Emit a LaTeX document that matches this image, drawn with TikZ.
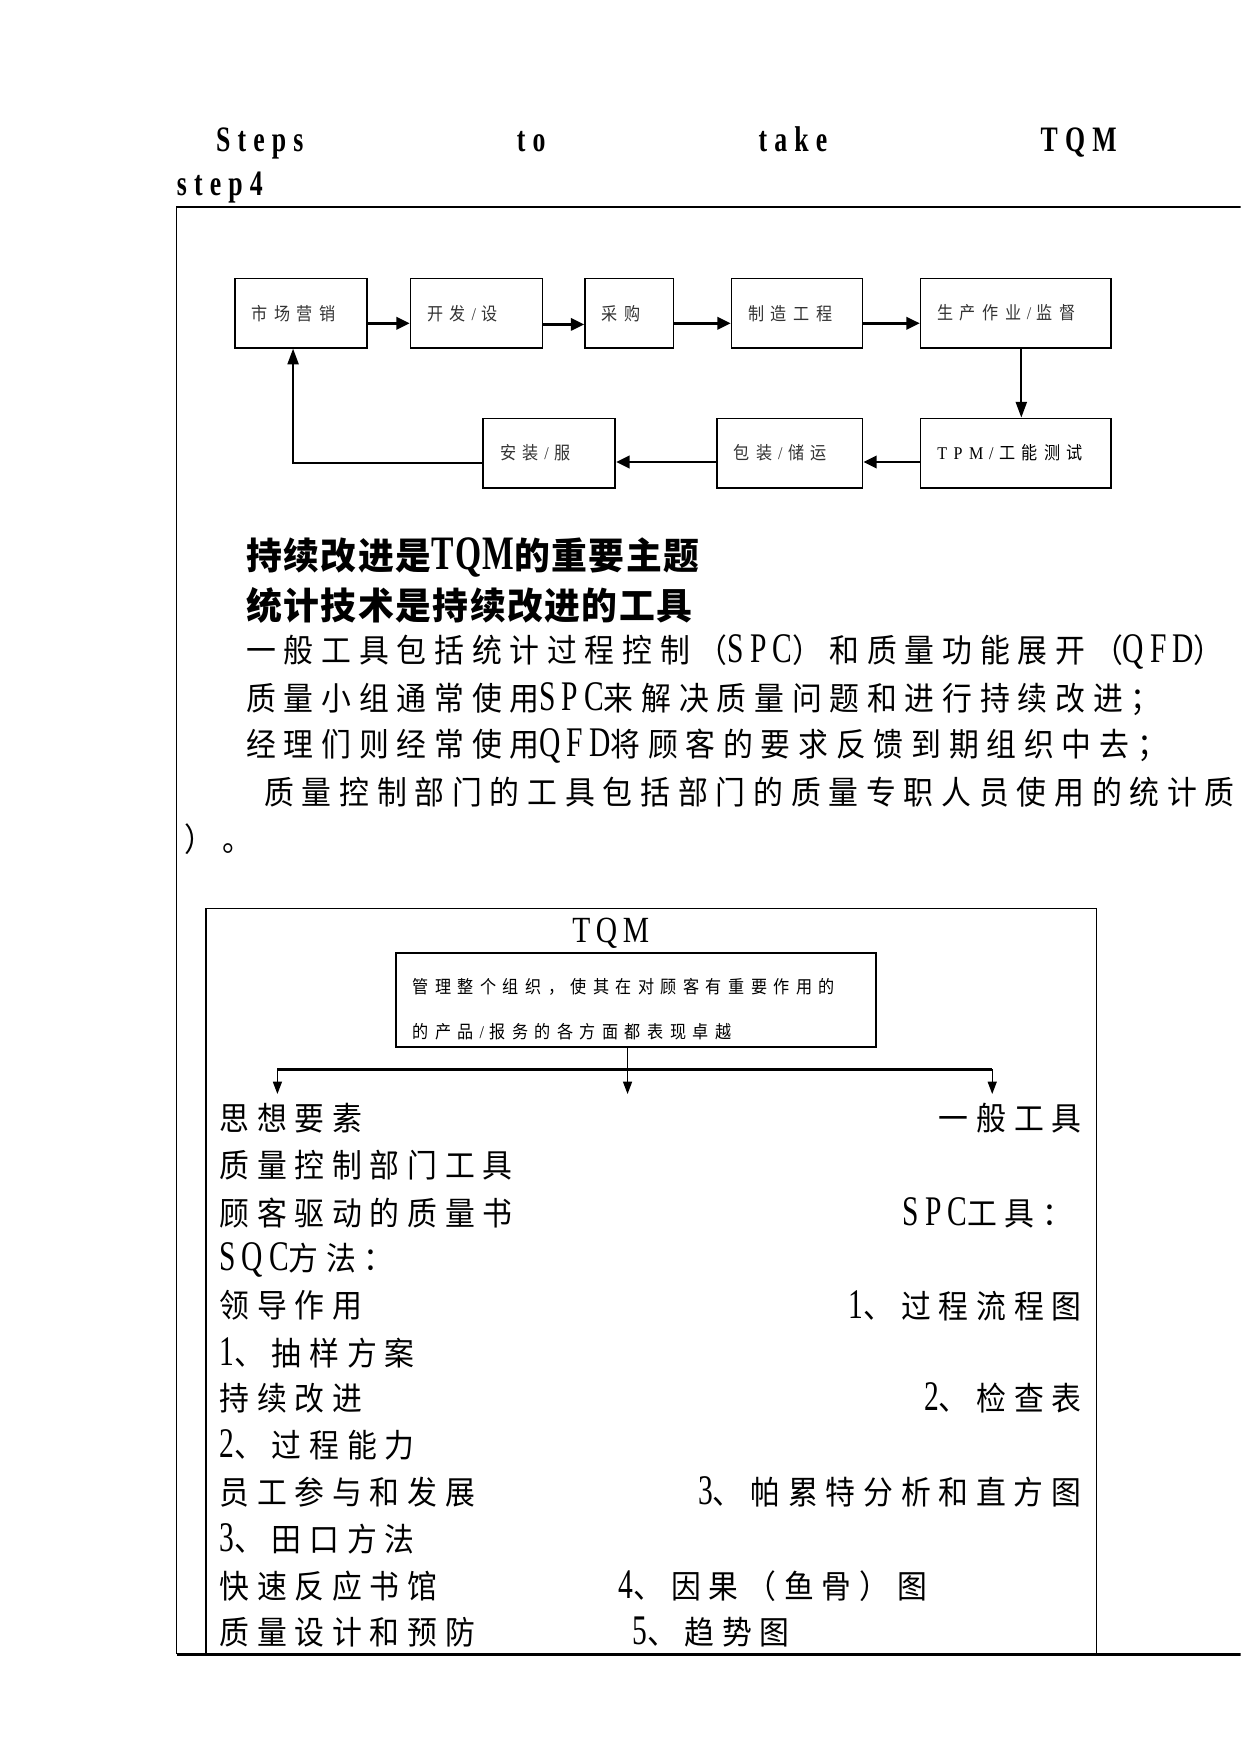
\documentclass[tikz,border=0pt]{standalone}
\usepackage{fontspec}
\usetikzlibrary{arrows.meta}
\setmainfont{Liberation Serif}
\newfontfamily\cjkR{Noto Sans CJK SC}[FakeStretch=0.92,LetterSpace=24]
\newfontfamily\latR{Liberation Serif}[Scale=1.3,FakeStretch=0.7,LetterSpace=14]
\newfontfamily\latT{Liberation Serif}[FakeStretch=0.8,LetterSpace=15]
\newfontfamily\cjkB{Noto Sans CJK SC}[FakeStretch=0.97,LetterSpace=4]
\newfontfamily\latB{Liberation Serif}[Scale=1.3,FakeStretch=0.7,LetterSpace=3]
\newfontfamily\ttlfont{Liberation Serif}[FakeStretch=0.72,LetterSpace=20]
\newfontfamily\cjkS{Noto Sans CJK SC}[FakeStretch=0.9,LetterSpace=36]
\newfontfamily\latS{Liberation Serif}[FakeStretch=0.9,LetterSpace=36]
\newcommand\Lr[1]{{\latR #1}}
\newcommand\Lb[1]{{\latB #1}}
\newcommand\Ls[1]{{\latS #1}}
\newcommand\Sl{{\latS\hspace{5pt}/\hspace{5pt}}}
\begin{document}
\begin{tikzpicture}[x=1pt,y=-1pt,
  fbox/.style={draw,line width=1.5pt,inner xsep=15pt,inner ysep=0pt,minimum height=62pt,
    align=left,text=black!80,font=\fontsize{16}{19}\selectfont\cjkS},
  thickarr/.style={line width=2.5pt,-{Triangle[length=12pt,width=11pt]}},
  thinarr/.style={line width=1.5pt,-{Triangle[length=14pt,width=10pt]}},
  smallarr/.style={line width=1.2pt,-{Triangle[length=11pt,width=8pt]}},
  txt/.style={inner sep=0pt,anchor=west,font=\fontsize{29}{34}\selectfont\cjkR},
  txtr/.style={inner sep=0pt,anchor=east,font=\fontsize{29}{34}\selectfont\cjkR},
  btxt/.style={inner sep=0pt,anchor=west,font=\fontsize{33}{40}\selectfont\bfseries\cjkB},
]
\useasboundingbox (0,0) rectangle (1109,1568);
\clip (0,0) rectangle (1109,1568);

% title
\node[anchor=base west,inner sep=0pt,font=\fontsize{32}{38}\selectfont\bfseries\ttlfont] (title) at (193,135)
  {\hbox to 805pt{Steps\hfill to\hfill take\hfill TQM}};
\node[anchor=base west,inner sep=0pt,font=\fontsize{32}{38}\selectfont\bfseries\ttlfont] (step) at (158,175) {step4};

% frames
\draw[line width=1.2pt] (1109,185) -- (158,185) -- (158,1479);
\draw[line width=1.2pt] (184,1479) -- (184,812) -- (980,812) -- (980,1479);
\draw[line width=2.5pt] (158,1479) -- (1109,1479);

% flowchart
\node[fbox,text width=88pt] (m1) at (269,280) {市场营销};
\node[fbox,text width=88pt] (m2) at (426,280) {开发\Sl 设};
\node[fbox,text width=49pt] (m3) at (562.5,280) {采购};
\node[fbox,text width=87pt] (m4) at (712.5,280) {制造工程};
\node[fbox,text width=140pt] (m5) at (908,280) {生产作业\Sl 监督};
\node[fbox,text width=140pt,text=black] (b1) at (908,405) {\Ls{TPM}\Sl 工能测试};
\node[fbox,text width=100pt] (b2) at (706,405) {包装\Sl 储运};
\node[fbox,text width=88pt] (b3) at (491,405) {安装\Sl 服};

\draw[thickarr] ([yshift=-9pt]m1.east) -- ([yshift=-9pt]m2.west);
\draw[thickarr] ([yshift=-10pt]m2.east) -- ([yshift=-10pt]m3.west);
\draw[thickarr] ([yshift=-9pt]m3.east) -- ([yshift=-9pt]m4.west);
\draw[thickarr] ([yshift=-9pt]m4.east) -- ([yshift=-9pt]m5.west);
\draw[thinarr] ([xshift=5pt]m5.south) -- ([xshift=5pt]b1.north);
\draw[thickarr] ([yshift=-8pt]b1.west) -- ([yshift=-8pt]b2.east);
\draw[thickarr] ([yshift=-8pt]b2.west) -- ([yshift=-8pt]b3.east);
\draw[thinarr] ([yshift=-9pt]b3.west) -| ([xshift=-7pt]m1.south);

% paragraph
\node[btxt] (p1) at (220,498) {持续改进是\Lb{TQM}的重要主题};
\node[btxt] (p2) at (220,541) {统计技术是持续改进的工具};
\node[txt] (p3) at (220,583) {一般工具包括统计过程控制（\Lr{SPC}）和质量功能展开（\Lr{QFD}）};
\node[txt] (p4) at (220,625) {质量小组通常使用\Lr{SPC}来解决质量问题和进行持续改进；};
\node[txt] (p5) at (220,667) {经理们则经常使用\Lr{QFD}将顾客的要求反馈到期组织中去；};
\node[txt] (p6) at (236,708) {质量控制部门的工具包括部门的质量专职人员使用的统计质};
\node[txt] (p7) at (165,750) {）。};

% TQM part
\node[inner sep=0pt,font=\fontsize{33}{38}\selectfont\latT] (tqm) at (546,834) {TQM};
\node[draw,line width=1.5pt,minimum width=429pt,minimum height=84pt,inner xsep=15pt,
  text width=399pt,align=left,font=\fontsize{16}{41}\selectfont\cjkS] (tbox) at (568.5,894)
  {\rule{0pt}{30pt}管理整个组织，使其在对顾客有重要作用的\\的产品\Sl 报务的各方面都表现卓越};
\coordinate (hl) at (248,956);
\coordinate (hr) at (887,956);
\coordinate (al) at (248,978);
\coordinate (am) at (561,978);
\coordinate (ar) at (887,978);
\draw[line width=2.5pt] (hl) -- (hr);
\draw[smallarr] (tbox.south -| am) -- (am);
\draw[smallarr] (hl) -- (al);
\draw[smallarr] (hr) -- (ar);

\node[txt] (l1) at (196,1000) {思想要素};
\node[txt] (l2) at (196,1042) {质量控制部门工具};
\node[txt] (l3) at (196,1084) {顾客驱动的质量书};
\node[txt] (l4) at (196,1126) {\Lr{SQC}方法：};
\node[txt] (l5) at (196,1167) {领导作用};
\node[txt] (l6) at (196,1209) {\Lr{1}、抽样方案};
\node[txt] (l7) at (196,1250) {持续改进};
\node[txt] (l8) at (196,1292) {\Lr{2}、过程能力};
\node[txt] (l9) at (196,1334) {员工参与和发展};
\node[txt] (l10) at (196,1376) {\Lr{3}、田口方法};
\node[txt] (l11) at (196,1418) {快速反应书馆};
\node[txt] (l12) at (196,1459) {质量设计和预防};

\node[txtr] (r1) at (967,1000) {一般工具};
\node[txt] (r2) at (807,1084) {\Lr{SPC}工具：};
\node[txtr] (r3) at (967,1167) {\Lr{1}、过程流程图};
\node[txtr] (r4) at (967,1250) {\Lr{2}、检查表};
\node[txtr] (r5) at (967,1334) {\Lr{3}、帕累特分析和直方图};
\node[txt] (r6) at (553,1418) {\Lr{4}、因果（鱼骨）图};
\node[txt] (r7) at (565,1459) {\Lr{5}、趋势图};
\end{tikzpicture}
\end{document}
